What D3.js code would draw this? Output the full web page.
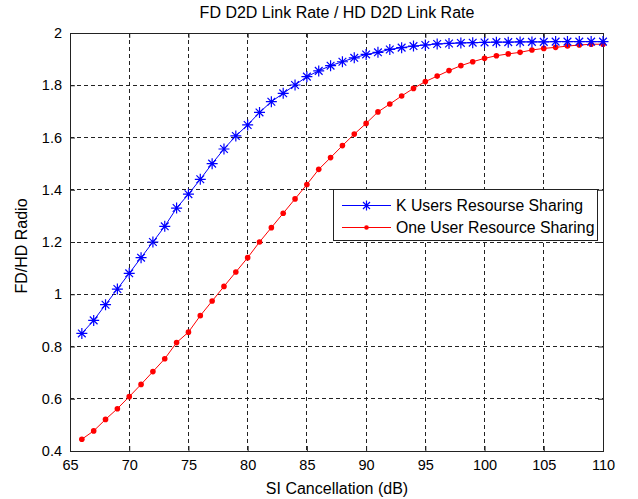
<!DOCTYPE html>
<html>
<head>
<meta charset="utf-8">
<script src="https://cdn.jsdelivr.net/npm/d3@7"></script>
<style>
  body { margin: 0; background: #fff; }
  text { font-family: "Liberation Sans", Arial, sans-serif; fill: #000; }
</style>
</head>
<body>
<svg id="chart" width="638" height="499"></svg>
<script>
// SI cancellation (dB)
const xs = d3.range(66, 111)
// K users resource sharing
const blueVals = [0.85, 0.90, 0.96, 1.02, 1.08, 1.14, 1.20, 1.26, 1.33, 1.383,
  1.44, 1.50, 1.556, 1.606, 1.648, 1.696, 1.737, 1.769, 1.801, 1.833,
  1.855, 1.875, 1.890, 1.905, 1.918, 1.926, 1.937, 1.944, 1.950, 1.954,
  1.958, 1.960, 1.962, 1.963, 1.964, 1.965, 1.965, 1.966, 1.966, 1.966,
  1.967, 1.967, 1.967, 1.967, 1.967]
// one user resource sharing
const redVals = [0.445, 0.477, 0.521, 0.562, 0.608, 0.655, 0.704, 0.753, 0.815, 0.855,
  0.918, 0.974, 1.03, 1.085, 1.14, 1.20, 1.255, 1.31, 1.365, 1.42,
  1.478, 1.523, 1.569, 1.613, 1.654, 1.698, 1.728, 1.759, 1.788, 1.814,
  1.835, 1.856, 1.875, 1.890, 1.903, 1.913, 1.920, 1.926, 1.935, 1.941,
  1.945, 1.950, 1.954, 1.957, 1.957]
const xTicks = d3.range(65, 111, 5)
const yTicks = [0.4, 0.6, 0.8, 1, 1.2, 1.4, 1.6, 1.8, 2]
const seriesNames = ["K Users Resourse Sharing", "One User Resource Sharing"]

const svg = d3.select("#chart")
const L = 70, R = 603, T = 33, B = 451

const x = d3.scaleLinear().domain([65, 110]).range([L, R])
const y = d3.scaleLinear().domain([0.4, 2]).range([B, T])

// grid
const grid = svg.append("g")
grid.selectAll(".gx").data(xTicks.slice(1, -1)).enter().append("line")
  .attr("x1", d => x(d)).attr("x2", d => x(d))
  .attr("y1", T).attr("y2", B)
grid.selectAll(".gy").data(yTicks.slice(1, -1)).enter().append("line")
  .attr("x1", L).attr("x2", R)
  .attr("y1", d => y(d)).attr("y2", d => y(d))
grid.selectAll("line")
  .attr("stroke", "#222").attr("stroke-width", 1)
  .attr("stroke-dasharray", "4,3")
  .attr("shape-rendering", "crispEdges")

// axes (ticks inside, on all sides)
const fmt = d => d3.format("")(+d.toFixed(1))
svg.append("g").attr("transform", `translate(0,${B})`)
  .call(d3.axisBottom(x).tickValues(xTicks).tickSizeInner(-5).tickSizeOuter(0).tickPadding(9))
svg.append("g").attr("transform", `translate(0,${T})`)
  .call(d3.axisTop(x).tickValues(xTicks).tickSizeInner(-5).tickSizeOuter(0).tickFormat(""))
svg.append("g").attr("transform", `translate(${L},0)`)
  .call(d3.axisLeft(y).tickValues(yTicks).tickSizeInner(-5).tickSizeOuter(0).tickPadding(8).tickFormat(fmt))
svg.append("g").attr("transform", `translate(${R},0)`)
  .call(d3.axisRight(y).tickValues(yTicks).tickSizeInner(-5).tickSizeOuter(0).tickFormat(""))
svg.selectAll(".domain").attr("stroke", "#222")
svg.selectAll(".tick line").attr("stroke", "#222")
svg.selectAll(".tick text").style("font-size", "14.5px")
  .style("font-family", "'Liberation Sans', Arial, sans-serif").attr("fill", "#000")
svg.append("rect").attr("x", L).attr("y", T).attr("width", R - L).attr("height", B - T)
  .attr("fill", "none").attr("stroke", "#222").attr("shape-rendering", "crispEdges")

// series
const line = d3.line().x(d => x(d[0])).y(d => y(d[1]))
const blue = xs.map((v, i) => [v, blueVals[i]])
const red = xs.map((v, i) => [v, redVals[i]])

const star = (g, cx, cy, r, color) => {
  const p = g.append("path")
    .attr("d", `M${cx - r},${cy}H${cx + r}M${cx},${cy - r}V${cy + r}` +
      `M${cx - r * 0.7},${cy - r * 0.7}L${cx + r * 0.7},${cy + r * 0.7}` +
      `M${cx - r * 0.7},${cy + r * 0.7}L${cx + r * 0.7},${cy - r * 0.7}`)
    .attr("stroke", color).attr("stroke-width", 1.2).attr("fill", "none")
  return p
}

svg.append("path").datum(red).attr("d", line)
  .attr("fill", "none").attr("stroke", "#ff0000").attr("stroke-width", 1)
svg.append("g").selectAll("circle").data(red).enter().append("circle")
  .attr("cx", d => x(d[0])).attr("cy", d => y(d[1])).attr("r", 2.8).attr("fill", "#ff0000")

svg.append("path").datum(blue).attr("d", line)
  .attr("fill", "none").attr("stroke", "#0000ff").attr("stroke-width", 1)
const bm = svg.append("g")
blue.forEach(d => star(bm, x(d[0]), y(d[1]), 5.5, "#0000ff"))

// legend
const lg = svg.append("g")
lg.append("rect").attr("x", 333.5).attr("y", 189.5).attr("width", 264).attr("height", 51)
  .attr("fill", "#fff").attr("stroke", "#222")
lg.append("line").attr("x1", 342).attr("x2", 391).attr("y1", 205.5).attr("y2", 205.5)
  .attr("stroke", "#0000ff")
star(lg, 366.5, 205.5, 5, "#0000ff")
lg.append("line").attr("x1", 342).attr("x2", 391).attr("y1", 227.5).attr("y2", 227.5)
  .attr("stroke", "#ff0000")
lg.append("circle").attr("cx", 366.5).attr("cy", 227.5).attr("r", 2.3).attr("fill", "#ff0000")
lg.selectAll("text").data(seriesNames).enter().append("text")
  .attr("x", 396).attr("y", (d, i) => 205.5 + i * 22).attr("dy", "0.35em")
  .style("font-size", "15.8px").text(d => d)

// titles
svg.append("text").attr("x", 337).attr("y", 18).attr("text-anchor", "middle")
  .style("font-size", "16px").text("FD D2D Link Rate / HD D2D Link Rate")
svg.append("text").attr("x", 337).attr("y", 494).attr("text-anchor", "middle")
  .style("font-size", "16px").text("SI Cancellation (dB)")
svg.append("text").attr("transform", "translate(27,246) rotate(-90)").attr("text-anchor", "middle")
  .style("font-size", "16px").text("FD/HD Radio")
</script>
</body>
</html>
